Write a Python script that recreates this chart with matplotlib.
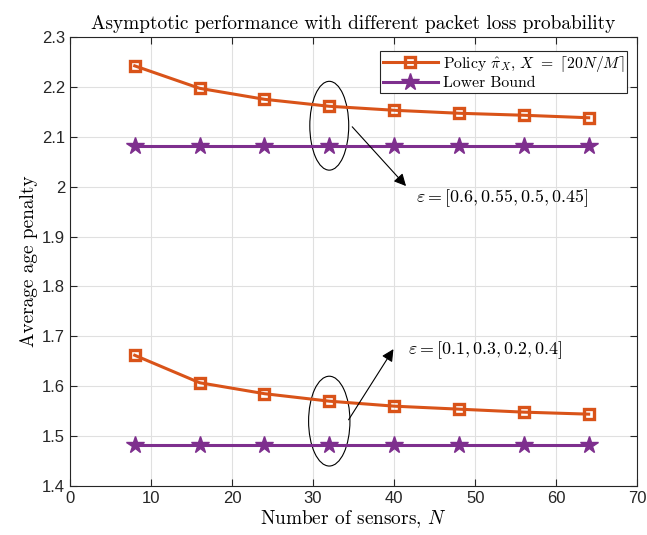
import matplotlib
matplotlib.use("Agg")
import matplotlib.pyplot as plt
from matplotlib.patches import Ellipse

plt.rcParams['mathtext.fontset'] = 'cm'
plt.rcParams['axes.unicode_minus'] = False

N = [8, 16, 24, 32, 40, 48, 56, 64]
policy_high = [2.242, 2.197, 2.175, 2.161, 2.153, 2.147, 2.143, 2.138]
bound_high = [2.081, 2.081, 2.081, 2.081, 2.081, 2.081, 2.081, 2.081]
policy_low = [1.662, 1.607, 1.585, 1.570, 1.560, 1.554, 1.548, 1.544]
bound_low = [1.482, 1.482, 1.482, 1.482, 1.482, 1.482, 1.482, 1.482]
xticks = [0, 10, 20, 30, 40, 50, 60, 70]
yticks = [1.4, 1.5, 1.6, 1.7, 1.8, 1.9, 2.0, 2.1, 2.2, 2.3]
ytick_labels = ['1.4', '1.5', '1.6', '1.7', '1.8', '1.9', '2', '2.1', '2.2', '2.3']

orange = '#D95319'
purple = '#7E2F8E'
serif = 'cmr10'

fig = plt.figure(figsize=(6.47, 5.35), dpi=100)
ax = fig.add_axes([0.108, 0.0916, 0.877, 0.8394])

l1, = ax.plot(N, policy_high, color=orange, lw=2.2, marker='s', ms=7,
              mfc='none', mec=orange, mew=2.4,
              label=r'Policy $\hat{\pi}_X$, $X\ =\ \lceil 20N/M \rceil$')
l2, = ax.plot(N, bound_high, color=purple, lw=2.2, marker='*', ms=13,
              mfc=purple, mec=purple, label='Lower Bound')
ax.plot(N, policy_low, color=orange, lw=2.2, marker='s', ms=7,
        mfc='none', mec=orange, mew=2.4)
ax.plot(N, bound_low, color=purple, lw=2.2, marker='*', ms=13,
        mfc=purple, mec=purple)

ax.set_xlim(0, 70)
ax.set_ylim(1.4, 2.3)
ax.set_xticks(xticks)
ax.set_yticks(yticks)
ax.set_yticklabels(ytick_labels)
for lab in ax.get_xticklabels() + ax.get_yticklabels():
    lab.set_fontfamily('Liberation Sans')
    lab.set_fontsize(12)
    lab.set_color('#262626')
ax.tick_params(direction='in', top=True, right=True, length=5, width=0.8, color='#262626')
ax.grid(True, color='#e0e0e0', lw=0.8)
ax.set_axisbelow(True)
for s in ax.spines.values():
    s.set_color('#262626')
    s.set_linewidth(0.8)

ax.set_title('Asymptotic performance with different packet loss probability',
             fontfamily=serif, fontsize=13.9, pad=6)
ax.set_xlabel(r'Number of sensors, $N$', fontfamily=serif, fontsize=13.9, labelpad=2)
ax.set_ylabel('Average age penalty', fontfamily=serif, fontsize=13.9, labelpad=3)

leg = ax.legend(handles=[l1, l2], loc='upper right', bbox_to_anchor=(0.982, 0.969),
                prop={'family': serif, 'size': 11.3},
                fancybox=False, edgecolor='#262626', framealpha=1,
                borderaxespad=0.0, handlelength=3.5, borderpad=0.2,
                labelspacing=0.15, handletextpad=0.3)
leg.get_frame().set_linewidth(0.8)

ax.add_patch(Ellipse((32, 2.122), 4.8, 0.178, fill=False, ec='black', lw=0.8))
ax.add_patch(Ellipse((32, 1.530), 5.1, 0.18, fill=False, ec='black', lw=0.8))

ax.annotate('', xy=(41.7, 1.997), xytext=(34.6, 2.124),
            arrowprops=dict(arrowstyle='-|>', color='black', lw=0.8, mutation_scale=18))
ax.annotate('', xy=(40.1, 1.679), xytext=(34.2, 1.528),
            arrowprops=dict(arrowstyle='-|>', color='black', lw=0.8, mutation_scale=18))

ax.text(42.7, 1.977, r'$\varepsilon = [0.6, 0.55, 0.5, 0.45]$', fontsize=12.9, va='center', ha='left')
ax.text(41.7, 1.673, r'$\varepsilon = [0.1, 0.3, 0.2, 0.4]$', fontsize=12.9, va='center', ha='left')

fig.savefig('out.png', dpi=100)
